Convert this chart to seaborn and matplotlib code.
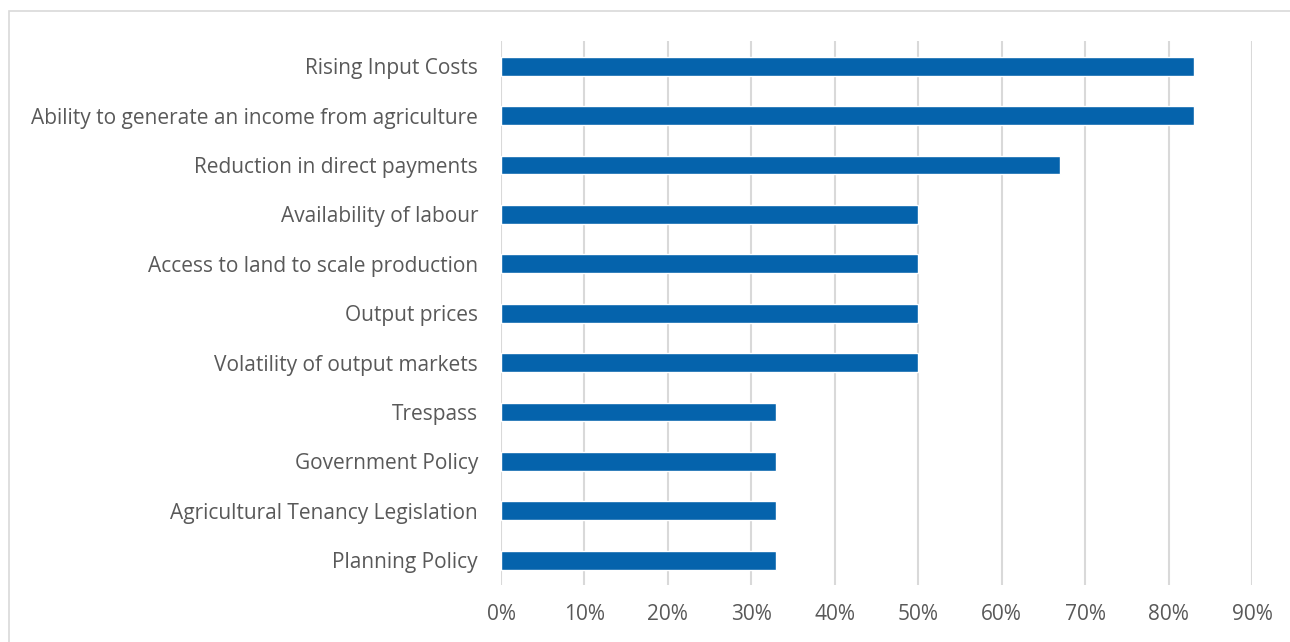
import matplotlib
matplotlib.use("Agg")
import matplotlib.pyplot as plt
from matplotlib.patches import Rectangle
from matplotlib.ticker import FuncFormatter
import seaborn as sns
import pandas as pd

categories = [
    "Rising Input Costs",
    "Ability to generate an income from agriculture",
    "Reduction in direct payments",
    "Availability of labour",
    "Access to land to scale production",
    "Output prices",
    "Volatility of output markets",
    "Trespass",
    "Government Policy",
    "Agricultural Tenancy Legislation",
    "Planning Policy",
]
shares = [0.83, 0.83, 0.67, 0.50, 0.50, 0.50, 0.50, 0.33, 0.33, 0.33, 0.33]
x_ticks = [0.0, 0.1, 0.2, 0.3, 0.4, 0.5, 0.6, 0.7, 0.8, 0.9]

df = pd.DataFrame({"factor": categories, "share": shares})

sns.set_theme(style="white")
plt.rcParams["font.family"] = ["Open Sans", "DejaVu Sans"]

text_color = "#595959"
grid_color = "#D9D9D9"
bar_color = "#0563AC"

fig = plt.figure(figsize=(12.9, 6.42), dpi=100)
ax = fig.add_axes([0.3884, 0.0888, 0.9705 - 0.3884, 0.9354 - 0.0888])

sns.barplot(data=df, x="share", y="factor", orient="h", color=bar_color,
            width=0.38, saturation=1, ax=ax, zorder=3)

ax.set_xlim(0, 0.9)
ax.set_ylim(len(categories) - 0.5, -0.5)
ax.set_xticks(x_ticks)
ax.xaxis.set_major_formatter(FuncFormatter(lambda v, _: f"{v * 100:.0f}%"))
ax.grid(axis="x", color=grid_color, linewidth=1.5, zorder=0)
ax.grid(axis="y", visible=False)
for s in ax.spines.values():
    s.set_visible(False)
ax.set_xlabel("")
ax.set_ylabel("")
ax.tick_params(axis="both", length=0, labelsize=15, colors=text_color)
ax.tick_params(axis="y", pad=16.5)
ax.tick_params(axis="x", pad=14)

# chart frame (open on the right and bottom)
fig.patches.append(Rectangle((9 / 1290, -0.5), 2.0, 1.5 - 11 / 642,
                             transform=fig.transFigure, fill=False,
                             edgecolor="#D9D9D9", linewidth=1.2))

fig.savefig("out.png", dpi=100, facecolor="white")
